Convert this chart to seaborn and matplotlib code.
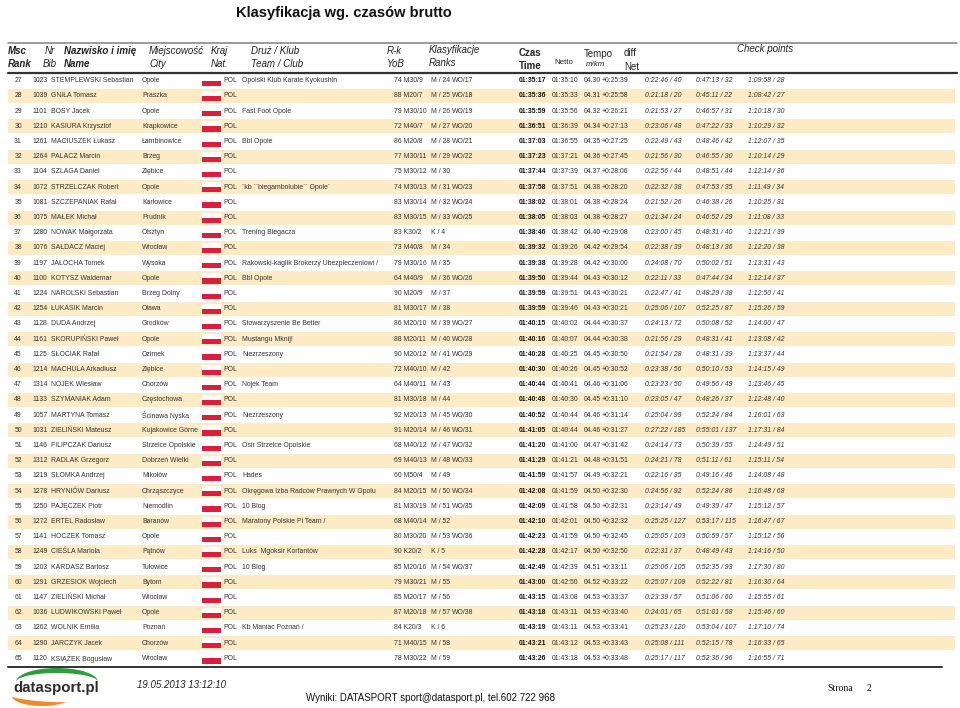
"""
Klasyfikacja wg. czasów brutto - strona 2 (wiersze 27-65)
Tabela wyników odtworzona w matplotlib/seaborn.
"""

import numpy as np
import pandas as pd
import matplotlib
matplotlib.use("Agg")
import matplotlib.pyplot as plt
from matplotlib import font_manager
from matplotlib.patches import Polygon
import seaborn as sns

# ------------------------------------------------------------
# 0. Dane
# ------------------------------------------------------------
msc = list(range(27, 66))
nr = [1023, 1039, 1101, 1210, 1261, 1264, 1104, 1072, 1081, 1075, 1280, 1076, 1197,
      1100, 1224, 1254, 1128, 1161, 1125, 1214, 1314, 1133, 1057, 1031, 1146, 1312,
      1219, 1278, 1250, 1272, 1141, 1249, 1203, 1291, 1147, 1036, 1262, 1290, 1120]
nazwiska = ["STEMPLEWSKI Sebastian", "GNIŁA Tomasz", "BOSY Jacek", "KASIURA Krzysztof",
            "MACIUSZEK Łukasz", "PALACZ Marcin", "SZLAGA Daniel", "STRZELCZAK Robert",
            "SZCZEPANIAK Rafał", "MAŁEK Michał", "NOWAK Małgorzata", "SAŁDACZ Maciej",
            "JAŁOCHA Tomek", "KOTYSZ Waldemar", "NAROLSKI Sebastian", "ŁUKASIK Marcin",
            "DUDA Andrzej", "SKORUPIŃSKI Paweł", "SŁOCIAK Rafał", "MACHULA Arkadiusz",
            "NOJEK Wiesław", "SZYMANIAK Adam", "MARTYNA Tomasz", "ZIELIŃSKI Mateusz",
            "FILIPCZAK Dariusz", "RADLAK Grzegorz", "SŁOMKA Andrzej", "HRYNIÓW Dariusz",
            "PAJĘCZEK Piotr", "ERTEL Radosław", "HOCZEK Tomasz", "CIEŚLA Mariola",
            "KARDASZ Bartosz", "GRZESIOK Wojciech", "ZIELIŃSKI Michał", "LUDWIKOWSKI Paweł",
            "WOLNIK Emilia", "JARCZYK Jacek", "KSIĄŻEK Bogusław"]
miasta = ["Opole", "Praszka", "Opole", "Krapkowice", "Łambinowice", "Brzeg", "Ziębice",
          "Opole", "Karłowice", "Prudnik", "Olsztyn", "Wrocław", "Wysoka", "Opole",
          "Brzeg Dolny", "Oława", "Grodków", "Opole", "Ozimek", "Ziębice", "Chorzów",
          "Częstochowa", "Ścinawa Nyska", "Kujakowice Górne", "Strzelce Opolskie",
          "Dobrzeń Wielki", "Mikołów", "Chrząszczyce", "Niemodlin", "Baranów", "Opole",
          "Pątnów", "Tułowice", "Bytom", "Wrocław", "Opole", "Poznań", "Chorzów", "Wrocław"]
kluby = ["Opolski Klub Karate Kyokushin", "", "Fast Foot Opole", "", "Bbl Opole", "", "",
         "`kb ``biegambolubie`` Opole`", "", "", "Trening Biegacza", "",
         "Rakowski-kaglik Brokerzy Ubezpieczeniowi /", "Bbl Opole", "", "",
         "Stowarzyszenie Be Better", "Mustangu Mknij!", "Niezrzeszony", "", "Nojek Team", "",
         "Niezrzeszony", "", "Osir Strzelce Opolskie", "", "Hades",
         "Okręgowa Izba Radców Prawnych W Opolu", "10 Blog", "Maratony Polskie Pl Team /", "",
         "Luks  Mgoksir Korfantów", "10 Blog", "", "", "", "Kb Maniac Poznań /", "", ""]
rocznik = [74, 88, 79, 72, 86, 77, 75, 74, 83, 83, 83, 73, 79, 64, 90, 81, 86, 88, 90, 72,
           64, 81, 92, 91, 68, 69, 60, 84, 81, 68, 80, 90, 85, 79, 85, 87, 84, 71, 78]
kategoria = ["M30/9", "M20/7", "M30/10", "M40/7", "M20/8", "M30/11", "M30/12", "M30/13",
             "M30/14", "M30/15", "K30/2", "M40/8", "M30/16", "M40/9", "M20/9", "M30/17",
             "M20/10", "M20/11", "M20/12", "M40/10", "M40/11", "M30/18", "M20/13", "M20/14",
             "M40/12", "M40/13", "M50/4", "M20/15", "M30/19", "M40/14", "M30/20", "K20/2",
             "M20/16", "M30/21", "M20/17", "M20/18", "K20/3", "M40/15", "M30/22"]
plec = ["M / 24", "M / 25", "M / 26", "M / 27", "M / 28", "M / 29", "M / 30", "M / 31",
        "M / 32", "M / 33", "K / 4", "M / 34", "M / 35", "M / 36", "M / 37", "M / 38",
        "M / 39", "M / 40", "M / 41", "M / 42", "M / 43", "M / 44", "M / 45", "M / 46",
        "M / 47", "M / 48", "M / 49", "M / 50", "M / 51", "M / 52", "M / 53", "K / 5",
        "M / 54", "M / 55", "M / 56", "M / 57", "K / 6", "M / 58", "M / 59"]
wo = ["WO/17", "WO/18", "WO/19", "WO/20", "WO/21", "WO/22", "", "WO/23", "WO/24", "WO/25",
      "", "", "", "WO/26", "", "", "WO/27", "WO/28", "WO/29", "", "", "", "WO/30", "WO/31",
      "WO/32", "WO/33", "", "WO/34", "WO/35", "", "WO/36", "", "WO/37", "", "", "WO/38",
      "", "", ""]
brutto = ["01:35:17", "01:35:36", "01:35:59", "01:36:51", "01:37:03", "01:37:23", "01:37:44",
          "01:37:58", "01:38:02", "01:38:05", "01:38:46", "01:39:32", "01:39:38", "01:39:50",
          "01:39:59", "01:39:59", "01:40:15", "01:40:16", "01:40:28", "01:40:30", "01:40:44",
          "01:40:48", "01:40:52", "01:41:05", "01:41:20", "01:41:29", "01:41:59", "01:42:08",
          "01:42:09", "01:42:10", "01:42:23", "01:42:28", "01:42:49", "01:43:00", "01:43:15",
          "01:43:18", "01:43:19", "01:43:21", "01:43:26"]
netto = ["01:35:10", "01:35:33", "01:35:56", "01:36:39", "01:36:55", "01:37:21", "01:37:39",
         "01:37:51", "01:38:01", "01:38:03", "01:38:42", "01:39:26", "01:39:28", "01:39:44",
         "01:39:51", "01:39:46", "01:40:02", "01:40:07", "01:40:25", "01:40:26", "01:40:41",
         "01:40:30", "01:40:44", "01:40:44", "01:41:00", "01:41:21", "01:41:57", "01:41:59",
         "01:41:58", "01:42:01", "01:41:59", "01:42:17", "01:42:39", "01:42:50", "01:43:08",
         "01:43:11", "01:43:11", "01:43:12", "01:43:18"]
tempo = ["04.30", "04.31", "04.32", "04.34", "04.35", "04.36", "04.37", "04.38", "04.38",
         "04.38", "04.40", "04.42", "04.42", "04.43", "04.43", "04.43", "04.44", "04.44",
         "04.45", "04.45", "04.46", "04.45", "04.46", "04.46", "04.47", "04.48", "04.49",
         "04.50", "04.50", "04.50", "04.50", "04.50", "04.51", "04.52", "04.53", "04.53",
         "04.53", "04.53", "04.53"]
roznica = ["+0:25:39", "+0:25:58", "+0:26:21", "+0:27:13", "+0:27:25", "+0:27:45", "+0:28:06",
           "+0:28:20", "+0:28:24", "+0:28:27", "+0:29:08", "+0:29:54", "+0:30:00", "+0:30:12",
           "+0:30:21", "+0:30:21", "+0:30:37", "+0:30:38", "+0:30:50", "+0:30:52", "+0:31:06",
           "+0:31:10", "+0:31:14", "+0:31:27", "+0:31:42", "+0:31:51", "+0:32:21", "+0:32:30",
           "+0:32:31", "+0:32:32", "+0:32:45", "+0:32:50", "+0:33:11", "+0:33:22", "+0:33:37",
           "+0:33:40", "+0:33:41", "+0:33:43", "+0:33:48"]
cp1 = ["0:22:46 / 40", "0:21:18 / 20", "0:21:53 / 27", "0:23:06 / 48", "0:22:49 / 43",
       "0:21:56 / 30", "0:22:56 / 44", "0:22:32 / 38", "0:21:52 / 26", "0:21:34 / 24",
       "0:23:00 / 45", "0:22:38 / 39", "0:24:08 / 70", "0:22:11 / 33", "0:22:47 / 41",
       "0:25:06 / 107", "0:24:13 / 72", "0:21:56 / 29", "0:21:54 / 28", "0:23:38 / 56",
       "0:23:23 / 50", "0:23:05 / 47", "0:25:04 / 99", "0:27:22 / 185", "0:24:14 / 73",
       "0:24:21 / 78", "0:22:16 / 35", "0:24:56 / 92", "0:23:14 / 49", "0:25:25 / 127",
       "0:25:05 / 103", "0:22:31 / 37", "0:25:06 / 105", "0:25:07 / 109", "0:23:39 / 57",
       "0:24:01 / 65", "0:25:23 / 120", "0:25:08 / 111", "0:25:17 / 117"]
cp2 = ["0:47:13 / 32", "0:45:11 / 22", "0:46:57 / 31", "0:47:22 / 33", "0:48:46 / 42",
       "0:46:55 / 30", "0:48:51 / 44", "0:47:53 / 35", "0:46:38 / 26", "0:46:52 / 29",
       "0:48:31 / 40", "0:48:13 / 36", "0:50:02 / 51", "0:47:44 / 34", "0:48:29 / 38",
       "0:52:25 / 87", "0:50:08 / 52", "0:48:31 / 41", "0:48:31 / 39", "0:50:10 / 53",
       "0:49:56 / 49", "0:48:26 / 37", "0:52:24 / 84", "0:55:01 / 137", "0:50:39 / 55",
       "0:51:11 / 61", "0:49:16 / 46", "0:52:24 / 86", "0:49:39 / 47", "0:53:17 / 115",
       "0:50:59 / 57", "0:48:49 / 43", "0:52:35 / 93", "0:52:22 / 81", "0:51:06 / 60",
       "0:51:01 / 58", "0:53:04 / 107", "0:52:15 / 78", "0:52:36 / 96"]
cp3 = ["1:09:58 / 28", "1:08:42 / 27", "1:10:18 / 30", "1:10:29 / 32", "1:12:07 / 35",
       "1:10:14 / 29", "1:12:14 / 36", "1:11:49 / 34", "1:10:25 / 31", "1:11:08 / 33",
       "1:12:21 / 39", "1:12:20 / 38", "1:13:31 / 43", "1:12:14 / 37", "1:12:50 / 41",
       "1:15:26 / 59", "1:14:00 / 47", "1:13:08 / 42", "1:13:37 / 44", "1:14:15 / 49",
       "1:13:46 / 45", "1:12:48 / 40", "1:16:01 / 63", "1:17:31 / 84", "1:14:49 / 51",
       "1:15:11 / 54", "1:14:08 / 48", "1:16:48 / 68", "1:15:12 / 57", "1:16:47 / 67",
       "1:15:12 / 56", "1:14:16 / 50", "1:17:30 / 80", "1:16:30 / 64", "1:15:55 / 61",
       "1:15:46 / 60", "1:17:10 / 74", "1:16:33 / 65", "1:16:55 / 71"]

# ------------------------------------------------------------
# 1. Styl / czcionki
# ------------------------------------------------------------
sns.set_theme(style="white")
dostepne = {f.name for f in font_manager.fontManager.ttflist}
NARROW = "Liberation Sans Narrow" in dostepne
SANS = ["Liberation Sans Narrow", "Liberation Sans", "DejaVu Sans"] if NARROW \
    else ["Liberation Sans", "DejaVu Sans"]
REG = ["Liberation Sans", "DejaVu Sans"]
SERIF = ["Liberation Serif", "DejaVu Serif"]
plt.rcParams["font.family"] = SANS
k = 1.0 if NARROW else 0.82          # bez wersji "Narrow" zmniejszamy stopień
FS_DATA = 6.0 * k
FS_HEAD = 8.6 * k

BEIGE = "#fcebc4"
RED = "#dc1e3c"
TXT = "#333333"

W, H = 960, 708
Y0, P = 80.7, 15.2          # środek pierwszego wiersza i skok wiersza (px)


def yr(px):
    """piksel (od góry) -> współrzędna wiersza"""
    return (px - Y0) / P


df = pd.DataFrame({"msc": msc, "label": [str(m) for m in msc]})
df["pas"] = np.where(df["msc"] % 2 == 0, 947, 0)
n = len(df)

fig = plt.figure(figsize=(W / 100, H / 100), dpi=100)
ax = fig.add_axes([0, 0, 1, 1])

# pasy tła (co drugi wiersz)
sns.barplot(data=df, x="pas", y="label", orient="h", color=BEIGE, saturation=1,
            width=14 / P, left=8, errorbar=None, linewidth=0, ax=ax)

# flagi
rows = np.arange(n)
ax.barh(rows - 2.4 / P, 19, left=202, height=5 / P, color="white", linewidth=0)
ax.barh(rows + 2.6 / P, 19, left=202, height=5.2 / P, color=RED, linewidth=0)

ax.set_xlim(0, W)
ax.set_ylim(yr(H), yr(0))
ax.set_axis_off()

# ------------------------------------------------------------
# 2. Wiersze
# ------------------------------------------------------------
kw = dict(va="center", fontsize=FS_DATA, color=TXT)
for i in range(n):
    ax.text(22, i, str(msc[i]), ha="right", **kw)
    ax.text(32, i, str(nr[i]), **kw)
    ax.text(51, i, nazwiska[i], **kw)
    ax.text(142, i, miasta[i], **kw)
    ax.text(223, i, "POL", **kw)
    ax.text(242, i, kluby[i], **kw)
    ax.text(394, i, f"{rocznik[i]} {kategoria[i]}", **kw)
    ax.text(431, i, plec[i], **kw)
    ax.text(452, i, wo[i], **kw)
    ax.text(519, i, brutto[i], fontweight="bold", va="center", fontsize=FS_DATA, color="#111111")
    ax.text(552, i, netto[i], **kw)
    ax.text(583.5, i, tempo[i], **kw)
    ax.text(602, i, roznica[i], **kw)
    ax.text(645, i, cp1[i], style="italic", **kw)
    ax.text(696, i, cp2[i], style="italic", **kw)
    ax.text(748, i, cp3[i], style="italic", **kw)

# ------------------------------------------------------------
# 3. Nagłówek
# ------------------------------------------------------------
ax.text(236, yr(13), "Klasyfikacja wg. czasów brutto", fontsize=10.5, fontweight="bold",
        family=REG, va="center", color="#111111")

ax.plot([8, 957], [yr(43)] * 2, color="#8a8a8a", lw=1.2)
ax.plot([8, 957], [yr(72.5)] * 2, color="#333333", lw=1.6)
ax.plot([8, 942], [yr(667)] * 2, color="#333333", lw=1.4)

naglowki = [
    # (x, y, tekst, waga, styl, skala)
    (8, 51, "Msc", "bold", "italic", 1.0), (8, 64, "Rank", "bold", "italic", 1.0),
    (45, 51, "Nr", "normal", "italic", 1.0), (43, 64, "Bib", "normal", "italic", 1.0),
    (64, 51, "Nazwisko i imię", "bold", "italic", 1.0), (64, 64, "Name", "bold", "italic", 1.0),
    (149, 51, "Miejscowość", "normal", "italic", 1.0), (149, 64, "City", "normal", "italic", 1.0),
    (211, 51, "Kraj", "normal", "italic", 1.0), (211, 64, "Nat.", "normal", "italic", 1.0),
    (251, 51, "Druż / Klub", "normal", "italic", 1.0),
    (251, 64, "Team / Club", "normal", "italic", 1.0),
    (387, 51, "R-k", "normal", "italic", 1.0), (387, 64, "YoB", "normal", "italic", 1.0),
    (429, 50, "Klasyfikacje", "normal", "italic", 1.0),
    (429, 63, "Ranks", "normal", "italic", 1.0),
    (519, 53, "Czas", "bold", "normal", 1.0), (519, 66, "Time", "bold", "normal", 1.0),
    (554, 62, "Netto", "normal", "normal", 0.8),
    (584, 54, "Tempo", "normal", "normal", 1.0), (586, 65, "m/km", "normal", "italic", 0.8),
    (624, 53, "diff", "normal", "normal", 1.0), (624, 67, "Net", "normal", "normal", 1.0),
    (737, 49, "Check points", "normal", "italic", 1.0),
]
for x, y, t, fw, st, s in naglowki:
    ax.text(x, yr(y), t, fontweight=fw, style=st, fontsize=FS_HEAD * s, va="center",
            color="#222222")

# ------------------------------------------------------------
# 4. Stopka
# ------------------------------------------------------------
ax.text(137, yr(685), "19.05.2013 13:12:10", style="italic", fontsize=7, family=REG,
        va="center", color="#222222")
ax.text(306, yr(698), "Wyniki: DATASPORT sport@datasport.pl, tel.602 722 968", fontsize=7,
        family=REG, va="center", color="#111111")
ax.text(827, yr(688), "Strona", fontsize=7, family=SERIF, va="center", color="#111111")
ax.text(867, yr(688), "2", fontsize=7, family=SERIF, va="center", color="#111111")

# logo datasport.pl (osobne osie w pikselach)
lax = fig.add_axes([0, 0, 120 / W, 50 / H])
lax.set_xlim(0, 120)
lax.set_ylim(708, 658)
lax.set_axis_off()
t = np.linspace(0, np.pi, 60)
gx = 57 + 41 * np.cos(t)
zew = np.column_stack([gx, 682 - 14 * np.sin(t)])
wew = np.column_stack([gx, 682 - 9 * np.sin(t)])
lax.add_patch(Polygon(np.vstack([zew, wew[::-1]]), closed=True, color="#2f9d3c", lw=0))
t = np.linspace(np.pi, 1.8 * np.pi, 60)
ox = 42 + 30 * np.cos(t)
grub = 5 * np.sin(np.pi * (t - np.pi) / (0.8 * np.pi))
zew = np.column_stack([ox, 696 - 10 * np.sin(t)])
wew = np.column_stack([ox, 696 - 10 * np.sin(t) - grub])
lax.add_patch(Polygon(np.vstack([zew, wew[::-1]]), closed=True, color="#f0892a", lw=0))
lax.text(13, 688, "datasport.pl", fontsize=10.8, fontweight="bold", family=REG,
         va="center", color="#2b2b2b")

fig.savefig("out.png", dpi=100)
